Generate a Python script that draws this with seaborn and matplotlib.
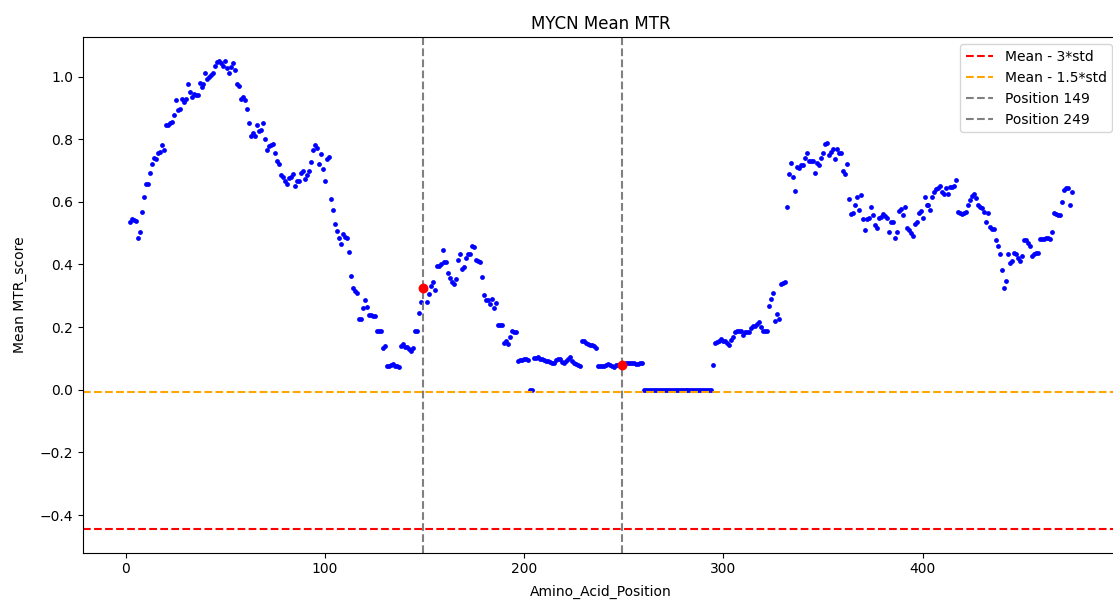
import numpy as np
import pandas as pd
import matplotlib
matplotlib.use("Agg")
import matplotlib.pyplot as plt
import seaborn as sns

# Mean MTR score per amino-acid position (positions 2..475)
start_position = 2
mtr_002_101 = [
    0.536, 0.544, 0.542, 0.540, 0.485, 0.504, 0.567, 0.614, 0.657, 0.657,
    0.693, 0.721, 0.740, 0.738, 0.755, 0.760, 0.782, 0.764, 0.846, 0.847,
    0.852, 0.856, 0.877, 0.924, 0.892, 0.896, 0.928, 0.918, 0.928, 0.975,
    0.950, 0.934, 0.944, 0.942, 0.942, 0.980, 0.967, 0.975, 1.012, 0.992,
    0.999, 1.005, 1.012, 1.033, 1.046, 1.051, 1.044, 1.035, 1.051, 1.028,
    1.012, 1.030, 1.044, 1.022, 0.975, 0.970, 0.928, 0.934, 0.924, 0.898,
    0.853, 0.811, 0.819, 0.811, 0.846, 0.827, 0.830, 0.853, 0.800, 0.766,
    0.777, 0.781, 0.785, 0.757, 0.732, 0.721, 0.687, 0.678, 0.668, 0.657,
    0.675, 0.680, 0.689, 0.651, 0.668, 0.668, 0.693, 0.700, 0.672, 0.686,
    0.700, 0.726, 0.766, 0.782, 0.771, 0.721, 0.753, 0.704, 0.668, 0.736,
]
mtr_102_201 = [
    0.743, 0.610, 0.574, 0.530, 0.507, 0.486, 0.464, 0.497, 0.488, 0.486,
    0.439, 0.364, 0.325, 0.315, 0.308, 0.225, 0.225, 0.260, 0.285, 0.264,
    0.240, 0.240, 0.235, 0.235, 0.186, 0.186, 0.186, 0.133, 0.141, 0.077,
    0.077, 0.080, 0.082, 0.076, 0.076, 0.074, 0.140, 0.146, 0.136, 0.136,
    0.130, 0.123, 0.134, 0.189, 0.186, 0.244, 0.280, 0.325, 0.321, 0.279,
    0.306, 0.332, 0.343, 0.317, 0.395, 0.394, 0.400, 0.445, 0.407, 0.407,
    0.372, 0.357, 0.343, 0.338, 0.353, 0.413, 0.434, 0.387, 0.392, 0.420,
    0.434, 0.434, 0.459, 0.455, 0.413, 0.411, 0.409, 0.360, 0.304, 0.285,
    0.288, 0.274, 0.289, 0.261, 0.277, 0.206, 0.208, 0.208, 0.150, 0.155,
    0.146, 0.168, 0.187, 0.184, 0.184, 0.093, 0.095, 0.095, 0.099, 0.097,
]
mtr_202_301 = [
    0.095, 0.000, 0.000, 0.101, 0.101, 0.103, 0.099, 0.099, 0.095, 0.093,
    0.093, 0.090, 0.086, 0.084, 0.095, 0.097, 0.099, 0.088, 0.084, 0.092,
    0.099, 0.103, 0.093, 0.084, 0.082, 0.080, 0.077, 0.155, 0.157, 0.150,
    0.146, 0.144, 0.142, 0.140, 0.134, 0.076, 0.076, 0.076, 0.077, 0.078,
    0.082, 0.078, 0.076, 0.074, 0.078, 0.080, 0.078, 0.078, 0.082, 0.084,
    0.086, 0.084, 0.084, 0.084, 0.082, 0.082, 0.084, 0.084, 0.000, 0.000,
    0.000, 0.000, 0.000, 0.000, 0.000, 0.000, 0.000, 0.000, 0.000, 0.000,
    0.000, 0.000, 0.000, 0.000, 0.000, 0.000, 0.000, 0.000, 0.000, 0.000,
    0.000, 0.000, 0.000, 0.000, 0.000, 0.000, 0.000, 0.000, 0.000, 0.000,
    0.000, 0.000, 0.000, 0.078, 0.150, 0.152, 0.155, 0.161, 0.157, 0.157,
]
mtr_302_401 = [
    0.148, 0.142, 0.159, 0.170, 0.185, 0.187, 0.187, 0.187, 0.174, 0.183,
    0.183, 0.183, 0.198, 0.202, 0.204, 0.210, 0.217, 0.200, 0.187, 0.187,
    0.187, 0.266, 0.289, 0.308, 0.219, 0.243, 0.225, 0.338, 0.341, 0.343,
    0.584, 0.689, 0.725, 0.680, 0.635, 0.712, 0.707, 0.718, 0.718, 0.740,
    0.757, 0.729, 0.731, 0.731, 0.693, 0.725, 0.718, 0.740, 0.757, 0.785,
    0.789, 0.750, 0.760, 0.768, 0.736, 0.770, 0.757, 0.757, 0.697, 0.689,
    0.721, 0.610, 0.561, 0.565, 0.589, 0.616, 0.574, 0.621, 0.546, 0.509,
    0.546, 0.548, 0.582, 0.557, 0.525, 0.516, 0.548, 0.553, 0.561, 0.555,
    0.548, 0.503, 0.535, 0.535, 0.486, 0.503, 0.572, 0.576, 0.559, 0.582,
    0.516, 0.509, 0.500, 0.492, 0.529, 0.535, 0.565, 0.570, 0.550, 0.614,
]
mtr_402_475 = [
    0.589, 0.591, 0.574, 0.616, 0.630, 0.641, 0.643, 0.652, 0.633, 0.625,
    0.643, 0.625, 0.646, 0.646, 0.650, 0.670, 0.567, 0.565, 0.561, 0.565,
    0.567, 0.589, 0.606, 0.620, 0.625, 0.612, 0.590, 0.582, 0.580, 0.567,
    0.535, 0.565, 0.520, 0.514, 0.514, 0.477, 0.460, 0.435, 0.382, 0.324,
    0.347, 0.433, 0.405, 0.410, 0.437, 0.435, 0.420, 0.411, 0.428, 0.477,
    0.477, 0.470, 0.458, 0.428, 0.435, 0.437, 0.437, 0.482, 0.480, 0.482,
    0.484, 0.484, 0.482, 0.503, 0.565, 0.561, 0.559, 0.559, 0.599, 0.637,
    0.643, 0.643, 0.589, 0.631,
]

highlight_positions = [149, 249]
threshold_3std = -0.445
threshold_1_5std = -0.008

mtr_values = mtr_002_101 + mtr_102_201 + mtr_202_301 + mtr_302_401 + mtr_402_475
positions = np.arange(start_position, start_position + len(mtr_values))
df = pd.DataFrame({"Amino_Acid_Position": positions, "Mean MTR_score": mtr_values})
df_hl = df[df["Amino_Acid_Position"].isin(highlight_positions)]

fig = plt.figure(figsize=(11.13, 6.02), dpi=100)
ax = fig.add_axes([0.0743, 0.0822, 0.9311, 0.856])

sns.scatterplot(data=df, x="Amino_Acid_Position", y="Mean MTR_score",
                color="blue", s=12, linewidth=0, ax=ax, zorder=2)
sns.scatterplot(data=df_hl, x="Amino_Acid_Position", y="Mean MTR_score",
                color="red", s=50, linewidth=0, ax=ax, zorder=3)

ax.axhline(threshold_3std, color="red", linestyle="--", label="Mean - 3*std")
ax.axhline(threshold_1_5std, color="orange", linestyle="--", label="Mean - 1.5*std")
for p in highlight_positions:
    ax.axvline(p, color="grey", linestyle="--", label=f"Position {p}")

ax.set_title("MYCN Mean MTR")
ax.set_xlabel("Amino_Acid_Position", labelpad=6)
ax.set_ylabel("Mean MTR_score", labelpad=9)
ax.legend(loc="upper right")

fig.savefig("out.png", dpi=100)
